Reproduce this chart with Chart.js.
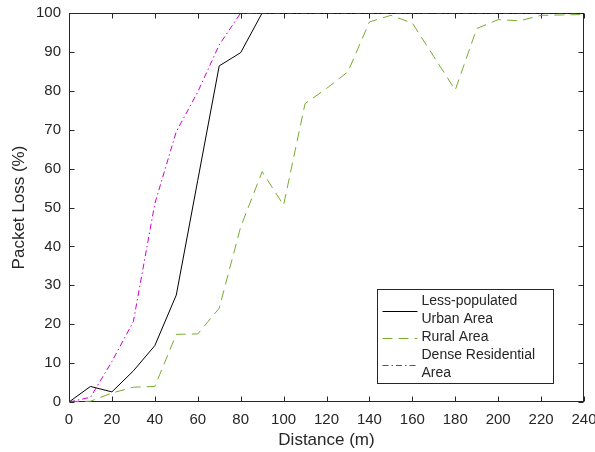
<!DOCTYPE html>
<html>
<head>
<meta charset="utf-8">
<script src="https://cdn.jsdelivr.net/npm/chart.js@4/dist/chart.umd.min.js"></script>
<style>
html,body{margin:0;padding:0;background:#fff;}
#wrap{width:595px;height:452px;position:relative;}
</style>
</head>
<body>
<div id="wrap"><canvas id="c" width="595" height="452"></canvas></div>
<script>
const distances = [0,10,20,30,40,50,60,70,80,90,100,110,120,130,140,150,160,170,180,190,200,210,220,230,240];
const urbanLoss = [0,4.0,2.6,8,14.5,27.5,57,86.4,89.8,100,100,100,100,100,100,100,100,100,100,100,100,100,100,100,100];
const ruralLoss = [0,0.2,2.3,3.8,4.0,17.4,17.5,24.1,45,59.2,50.6,76.7,80.6,84.9,97.7,99.4,97.4,88.8,80.2,96,98.3,98,99.4,99.5,99.6];
const denseLoss = [0,1.2,10.4,20.7,51,69.5,79.7,91.8,100,100,100,100,100,100,100,100,100,100,100,100,100,100,100,100,100];
const seriesLabels = [["Less-populated","Urban Area"],["Rural Area"],["Dense Residential","Area"]];
const xTicks = [0,20,40,60,80,100,120,140,160,180,200,220,240];
const yTicks = [0,10,20,30,40,50,60,70,80,90,100];

const TXT = '#262626';
const FONT = '"Liberation Sans", Arial, Helvetica, sans-serif';
const pts = arr => arr.map((v,i)=>({x:distances[i], y:v}));

const boxPlugin = {
  id:'boxTicks',
  beforeDatasetsDraw(chart){
    const {ctx, scales:{x,y}} = chart;
    const L=Math.round(x.getPixelForValue(x.min))+0.5, R=Math.round(x.getPixelForValue(x.max))-0.5;
    const T=Math.round(y.getPixelForValue(y.max))+0.5, B=Math.round(y.getPixelForValue(y.min))-0.5;
    ctx.save();
    ctx.strokeStyle=TXT; ctx.lineWidth=1; ctx.setLineDash([]);
    ctx.strokeRect(L,T,R-L,B-T);
    const tl=5;
    ctx.beginPath();
    xTicks.forEach(v=>{
      const px=Math.round(x.getPixelForValue(v))+0.5;
      ctx.moveTo(px,B); ctx.lineTo(px,B-tl);
      ctx.moveTo(px,T); ctx.lineTo(px,T+tl);
    });
    yTicks.forEach(v=>{
      const py=Math.round(y.getPixelForValue(v))+0.5;
      ctx.moveTo(L,py); ctx.lineTo(L+tl,py);
      ctx.moveTo(R,py); ctx.lineTo(R-tl,py);
    });
    ctx.stroke();
    ctx.restore();
  },
  afterDraw(chart){
    const ctx=chart.ctx;
    const bx=377.5, by=289.5, bw=176, bh=94;
    ctx.save();
    ctx.fillStyle='#fff';
    ctx.fillRect(bx,by,bw,bh);
    ctx.strokeStyle=TXT; ctx.lineWidth=1; ctx.setLineDash([]);
    ctx.strokeRect(bx,by,bw,bh);
    ctx.font='14px '+FONT;
    ctx.textBaseline='middle';
    ctx.fillStyle=TXT;
    const lineH=18;
    let ty=by+12;
    chart.data.datasets.forEach((ds,i)=>{
      const lines=seriesLabels[i];
      const sy=Math.round(ty+(lines.length-1)*lineH/2)+0.5;
      ctx.strokeStyle=ds.borderColor; ctx.lineWidth=ds.borderWidth;
      ctx.setLineDash(ds.borderDash||[]);
      ctx.beginPath(); ctx.moveTo(bx+5,sy); ctx.lineTo(bx+40,sy); ctx.stroke();
      ctx.setLineDash([]);
      lines.forEach((t,k)=>{ ctx.fillText(t,bx+44,ty+k*lineH); });
      ty+=lines.length*lineH;
    });
    ctx.restore();
  }
};

new Chart(document.getElementById('c'),{
  type:'line',
  data:{datasets:[
    {label:seriesLabels[0].join(' '),data:pts(urbanLoss),borderColor:'#000000',borderWidth:1,borderDash:[],pointRadius:0,fill:false,tension:0,order:1},
    {label:seriesLabels[1].join(' '),data:pts(ruralLoss),borderColor:'#77AC30',borderWidth:1,borderDash:[10,6],pointRadius:0,fill:false,tension:0,order:2},
    {label:seriesLabels[2].join(' '),data:pts(denseLoss),borderColor:'#CC00CC',borderWidth:1,borderDash:[6,3,1.5,3],pointRadius:0,fill:false,tension:0,order:0}
  ]},
  options:{
    responsive:false,animation:false,
    layout:{padding:{top:13,right:11,left:0,bottom:0}},
    plugins:{legend:{display:false},tooltip:{enabled:false}},
    scales:{
      x:{type:'linear',min:0,max:240,
        afterBuildTicks(s){s.ticks=xTicks.map(v=>({value:v}));},
        afterFit(s){s.height=50;s.paddingLeft=0;s.paddingRight=0;},
        grid:{display:false,drawTicks:false},border:{display:false},
        ticks:{padding:9,color:TXT,font:{family:FONT,size:15},maxRotation:0,autoSkip:false},
        title:{display:true,text:'Distance (m)',color:TXT,font:{family:FONT,size:17},padding:{top:0,bottom:1}}
      },
      y:{type:'linear',min:0,max:100,
        afterBuildTicks(s){s.ticks=yTicks.map(v=>({value:v}));},
        afterFit(s){s.width=69;s.paddingTop=0;s.paddingBottom=0;},
        grid:{display:false,drawTicks:false},border:{display:false},
        ticks:{padding:8,color:TXT,font:{family:FONT,size:15},autoSkip:false},
        title:{display:true,text:'Packet Loss (%)',color:TXT,font:{family:FONT,size:17},padding:{top:9,bottom:0}}
      }
    }
  },
  plugins:[boxPlugin]
});
</script>
</body>
</html>
